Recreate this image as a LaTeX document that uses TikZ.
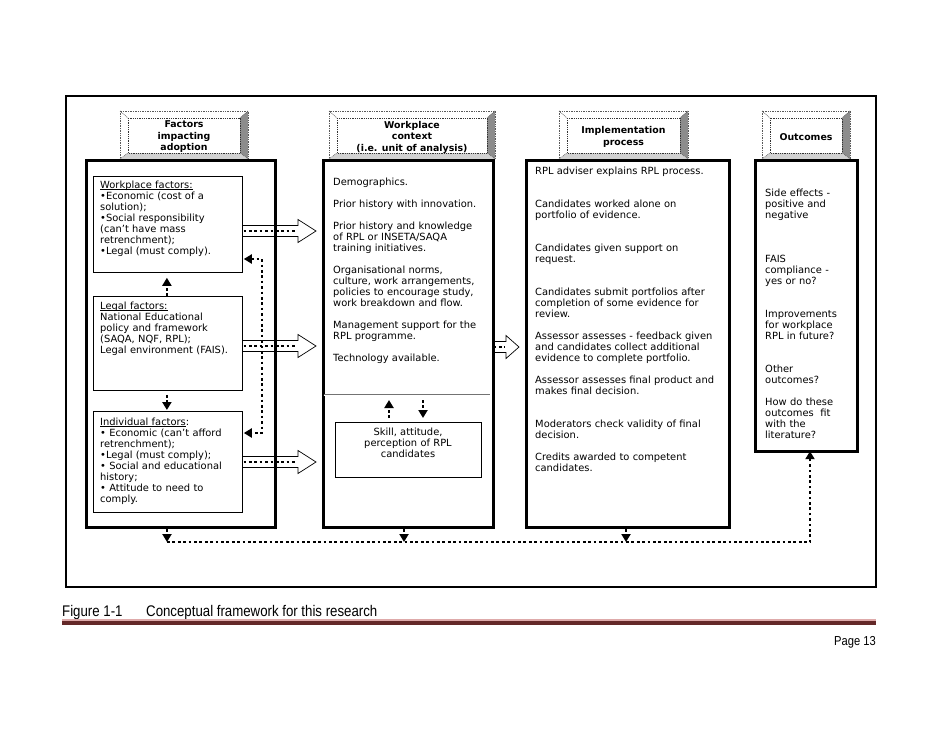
\documentclass[tikz,border=0pt]{standalone}
\usepackage{fontspec}
\setmainfont{DejaVu Sans}
\newfontfamily\capfont[FakeStretch=0.86]{Liberation Sans}
\usetikzlibrary{calc,arrows.meta}

\newcommand\ulin[1]{\setbox0\hbox{#1}\rlap{\rule[-1.6pt]{\wd0}{0.6pt}}\box0}
\newcommand\header[6]{%
  \fill[white] (#2,#3) rectangle (#4,#5);
  \fill[black!45] (#4,#3) -- ($(#4,#3)+(-8,7)$) -- ($(#4,#5)+(-8,-6)$) -- (#4,#5) -- cycle;
  \fill[black!18] (#2,#5) -- ($(#2,#5)+(8,-6)$) -- ($(#4,#5)+(-8,-6)$) -- (#4,#5) -- cycle;
  \draw[hdot] (#2,#3) rectangle (#4,#5);
  \draw[hdot] (#2,#3) -- ++(8,7) (#4,#3) -- ++(-8,7) (#2,#5) -- ++(8,-6) (#4,#5) -- ++(-8,-6);
  \draw[hin] ($(#2,#3)+(8,7)$) rectangle ($(#4,#5)+(-8,-6)$);
  \node[htxt] (#1) at ($(#2,#3)!.5!(#4,#5)+(0,2)$) {#6};
}
\newcommand\blockarr[3]{%
  \filldraw[fill=white, line width=0.7pt] let \p1=(#1), \p2=(#2) in
    (\x1,\y1+5.5pt) -- (\x2-#3,\y1+5.5pt) -- (\x2-#3,\y1+11.5pt) -- (\x2,\y1)
    -- (\x2-#3,\y1-11.5pt) -- (\x2-#3,\y1-5.5pt) -- (\x1,\y1-5.5pt);
  \draw[dots] let \p1=(#1), \p2=(#2) in (\x1+1.5pt,\y1) -- (\x2-#3-1pt,\y1);
}

\begin{document}
\begin{tikzpicture}[x=1pt,y=-1pt,
  outer/.style={draw, line width=2.4pt},
  col/.style={draw, line width=3.2pt},
  ibox/.style={draw, line width=0.8pt},
  hdot/.style={draw=black!65, line width=0.7pt, densely dotted},
  hin/.style={draw=black!80, line width=0.8pt, densely dotted},
  htxt/.style={align=center, inner sep=0, font=\bfseries\fontsize{9.4}{11.5}\selectfont},
  txt/.style={anchor=base west, align=left, inner sep=0, text width=200pt,
    font=\fontsize{9.9}{11}\selectfont},
  dots/.style={line width=2.7pt, dash pattern=on 2.7pt off 2.7pt},
  tip/.style={-{Triangle[width=9pt,length=8pt]}},
  tips/.style={{Triangle[width=9pt,length=8pt]}-{Triangle[width=9pt,length=8pt]}},
]
\useasboundingbox[fill=white] (0,0) rectangle (942,728);

% ---------- headers ----------
\header{h1}{120}{111}{248}{159}{Factors\\impacting\\adoption}
\header{h2}{329}{111}{495}{159}{Workplace\\context\\(i.e. unit of analysis)}
\header{h3}{559}{111}{688}{159}{Implementation\\process}
\header{h4}{762}{111}{850}{159}{Outcomes}

% ---------- block arrows (under frames) ----------
\coordinate (a1s) at (242,231); \coordinate (a1e) at (316,231);
\coordinate (a2s) at (242,346); \coordinate (a2e) at (316,346);
\coordinate (a3s) at (242,462); \coordinate (a3e) at (316,462);
\coordinate (a4s) at (492,347); \coordinate (a4e) at (519,347);
\blockarr{a1s}{a1e}{18pt}
\blockarr{a2s}{a2e}{18pt}
\blockarr{a3s}{a3e}{18pt}
\blockarr{a4s}{a4e}{13pt}

% ---------- frames ----------
\draw[outer] (66,96) rectangle (876,587);
\node[col, anchor=north west, inner sep=0, minimum width=189pt, minimum height=367pt] (cL) at (85,159) {};
\node[col, anchor=north west, inner sep=0, minimum width=170pt, minimum height=367pt] (cM) at (322,159) {};
\node[col, anchor=north west, inner sep=0, minimum width=203pt, minimum height=367pt] (cI) at (525,159) {};
\node[col, anchor=north west, inner sep=0, minimum width=102pt, minimum height=291pt] (cO) at (754,159) {};
\draw[black!55, double=white, double distance=1pt, line width=0.6pt] (323.6,395) -- (490.4,395);

% ---------- inner boxes ----------
\node[ibox, anchor=north west, inner sep=0, minimum width=149pt, minimum height=96pt] (bW) at (93,176) {};
\node[ibox, anchor=north west, inner sep=0, minimum width=149pt, minimum height=94pt] (bL) at (93,296) {};
\node[ibox, anchor=north west, inner sep=0, minimum width=149pt, minimum height=101pt] (bI) at (93,411) {};
\node[ibox, anchor=north west, inner sep=0, minimum width=146pt, minimum height=55pt] (bS) at (335,422) {};

% ---------- texts ----------
\node[txt] (tW) at (100,188) {\ulin{Workplace factors:}\\
•Economic (cost of a\\ solution);\\ •Social responsibility\\ (can't have mass\\ retrenchment);\\ •Legal (must comply).};
\node[txt] (tL) at (100,309) {\ulin{Legal factors:}\\
National Educational\\ policy and framework\\ (SAQA, NQF, RPL);\\ Legal environment (FAIS).};
\node[txt] (tI) at (100,425) {\ulin{Individual factors}:\\
• Economic (can't afford\\ retrenchment);\\ •Legal (must comply);\\ • Social and educational\\ history;\\ • Attitude to need to\\ comply.};
\node[txt] (tM) at (333,185) {Demographics.\\[11pt]
Prior history with innovation.\\[11pt]
Prior history and knowledge\\ of RPL or INSETA/SAQA\\ training initiatives.\\[11pt]
Organisational norms,\\ culture, work arrangements,\\ policies to encourage study,\\ work breakdown and flow.\\[11pt]
Management support for the\\ RPL programme.\\[11pt]
Technology available.};
\node[txt, align=center, text width=146pt, anchor=base] (tS) at (408,435)
  {Skill, attitude,\\ perception of RPL\\ candidates};
\node[txt] (tP) at (535,174) {RPL adviser explains RPL process.\\[22pt]
Candidates worked alone on\\ portfolio of evidence.\\[22pt]
Candidates given support on\\ request.\\[22pt]
Candidates submit portfolios after\\ completion of some evidence for\\ review.\\[11pt]
Assessor assesses - feedback given\\ and candidates collect additional\\ evidence to complete portfolio.\\[11pt]
Assessor assesses final product and\\ makes final decision.\\[22pt]
Moderators check validity of final\\ decision.\\[11pt]
Credits awarded to competent\\ candidates.};
\node[txt] (tO) at (765,196) {Side effects -\\ positive and\\ negative\\[33pt]
FAIS\\ compliance -\\ yes or no?\\[22pt]
Improvements\\ for workplace\\ RPL in future?\\[22pt]
Other\\ outcomes?\\[11pt]
How do these\\ outcomes\ \ fit\\ with the\\ literature?};

% ---------- dotted connectors ----------
\draw[dots, tip] ([xshift=-1pt]bL.north) -- ([xshift=-1pt,yshift=-5pt]bW.south);
\draw[dots, tip] ([xshift=-1pt,yshift=-4pt]bL.south) -- ([xshift=-1pt,yshift=1pt]bI.north);
\coordinate (fbW) at (262,259);
\coordinate (fbI) at (262,433);
\draw[dots, tips] ([xshift=1pt]bW.east |- fbW) -- (fbW) -- (fbI) -- ([xshift=1pt]bI.east |- fbI);

\coordinate (jL) at (167,542);
\coordinate (jM) at (404,542);
\coordinate (jI) at (626,542);
\coordinate (jO) at (810,542);
\draw[dots, tip] (cL.south -| jL) -- (jL);
\draw[dots, tip] (cM.south -| jM) -- (jM);
\draw[dots, tip] (cI.south -| jI) -- (jI);
\draw[dots, tip] (jL) -- (jO) -- ([yshift=2pt]cO.south -| jO);

\coordinate (uS) at (389,418);
\coordinate (uD) at (389,400);
\coordinate (dS) at (423,400);
\coordinate (dD) at (423,418);
\draw[dots, tip] (uS) -- (uD);
\draw[dots, tip] (dS) -- (dD);

% ---------- caption ----------
\node[anchor=base west, inner sep=0, font=\capfont\fontsize{15.4}{16}\selectfont] (fig) at (62,616) {Figure 1-1};
\node[anchor=base west, inner sep=0, font=\capfont\fontsize{15.4}{16}\selectfont] (cap) at (146,616) {Conceptual framework for this research};
\coordinate (rl) at (62,623); \coordinate (rr) at (876,623);
\draw[color={rgb,255:red,100;green,40;blue,40}, line width=3.2pt] (rl) -- (rr);
\draw[color={rgb,255:red,222;green,170;blue,170}, line width=1.6pt] ([yshift=3pt]rl) -- ([yshift=3pt]rr);
\node[anchor=base east, inner sep=0, font=\capfont\fontsize{13}{14}\selectfont] (pg) at (876,645) {Page 13};
\end{tikzpicture}
\end{document}
